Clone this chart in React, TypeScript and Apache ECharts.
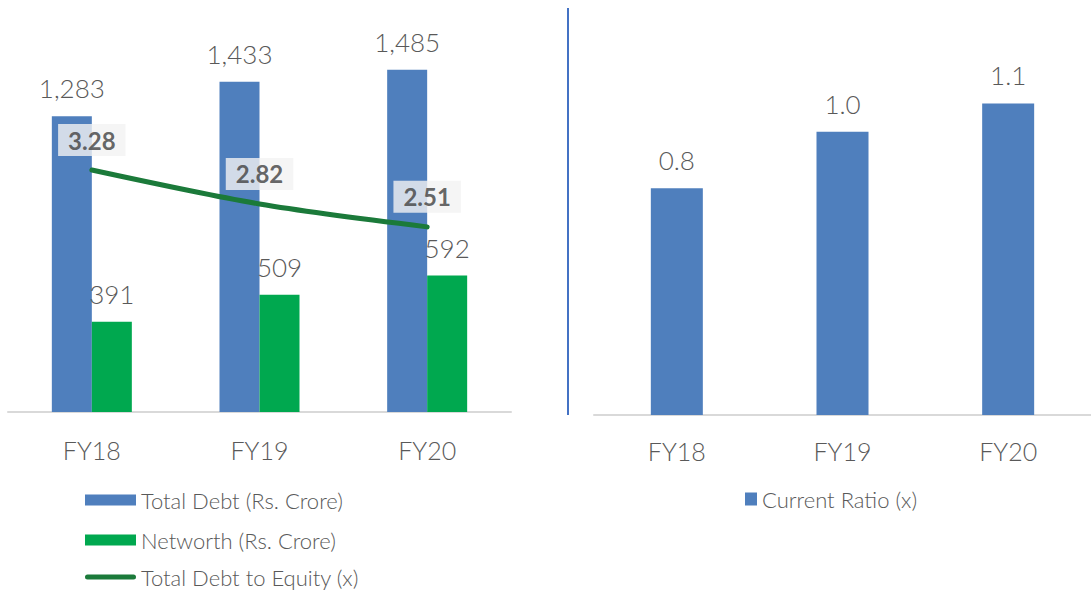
import React, { useEffect, useRef } from "react";
import * as echarts from "echarts";

const categories = ["FY18", "FY19", "FY20"];
const totalDebt = [1283, 1433, 1485];
const networth = [391, 509, 592];
const debtToEquity = [3.28, 2.82, 2.51];
const currentRatio = [0.8, 1.0, 1.1];

const FONT = "Lato, 'Open Sans', sans-serif";
const GRAY = "#595959";
const BLUE = "#4f7fbd";
const GREEN = "#00a84f";
const DARKGREEN = "#1b7a3a";

const LINE_ICON =
  "path://M0,0h0.01v0.01h-0.01Z M2.5,3 h46 a2.5,2.5 0 0 1 0,5 h-46 a2.5,2.5 0 0 1 0,-5 Z M50.99,10.99h0.01v0.01h-0.01Z";

export default function App() {
  const ref = useRef<HTMLDivElement>(null);
  useEffect(() => {
    if (!ref.current) return;
    const chart = echarts.init(ref.current, undefined, { renderer: "svg" });
    const barLabel = {
      show: true,
      position: "top" as const,
      distance: 15,
      color: GRAY,
      fontSize: 26,
      fontFamily: FONT,
      fontWeight: 300 as any,
    };
    const legendText = { color: GRAY, fontSize: 22, fontFamily: FONT, fontWeight: 300 as any };
    const leftLegend = (name: string, top: number, icon: string) => ({
      left: 85,
      top,
      padding: 0,
      itemWidth: 51,
      itemHeight: 11,
      textStyle: legendText,
      data: [{ name, icon }],
    });
    chart.setOption({
      animation: false,
      backgroundColor: "#ffffff",
      textStyle: { fontFamily: FONT },
      grid: [
        { left: 8, width: 503, top: 43.2, height: 368.8 },
        { left: 594, width: 503, top: 18.4, height: 396.6 },
      ],
      legend: [
        leftLegend("Total Debt (Rs. Crore)", 489, "rect"),
        leftLegend("Networth (Rs. Crore)", 529, "rect"),
        leftLegend("Total Debt to Equity (x)", 566, LINE_ICON),
        {
          left: 745,
          top: 488,
          padding: 0,
          itemWidth: 12,
          itemHeight: 13,
          textStyle: legendText,
          data: [{ name: "Current Ratio (x)", icon: "rect" }],
        },
      ],
      xAxis: [
        {
          type: "category",
          gridIndex: 0,
          data: categories,
          axisLine: { lineStyle: { color: "#d9d9d9", width: 2 } },
          axisTick: { show: false },
          axisLabel: { color: GRAY, fontSize: 25, fontFamily: FONT, fontWeight: 300 as any, margin: 25 },
        },
        {
          type: "category",
          gridIndex: 1,
          data: categories,
          axisLine: { lineStyle: { color: "#d9d9d9", width: 2 } },
          axisTick: { show: false },
          axisLabel: { color: GRAY, fontSize: 25, fontFamily: FONT, fontWeight: 300 as any, margin: 23 },
        },
      ],
      yAxis: [
        { type: "value", gridIndex: 0, min: 0, max: 1600, show: false, splitLine: { show: false } },
        { type: "value", gridIndex: 0, min: 0, max: 5, show: false, splitLine: { show: false } },
        { type: "value", gridIndex: 1, min: 0, max: 1.4, show: false, splitLine: { show: false } },
      ],
      series: [
        {
          name: "Total Debt (Rs. Crore)",
          type: "bar",
          xAxisIndex: 0,
          yAxisIndex: 0,
          data: totalDebt,
          barWidth: 40,
          barGap: "0%",
          itemStyle: { color: BLUE },
          label: { ...barLabel, formatter: (p: any) => Number(p.value).toLocaleString("en-US") },
        },
        {
          name: "Networth (Rs. Crore)",
          type: "bar",
          xAxisIndex: 0,
          yAxisIndex: 0,
          data: networth,
          barWidth: 40,
          barGap: "0%",
          itemStyle: { color: GREEN },
          label: barLabel,
        },
        {
          name: "Total Debt to Equity (x)",
          type: "line",
          xAxisIndex: 0,
          yAxisIndex: 1,
          data: debtToEquity,
          smooth: 0.3,
          symbol: "none",
          z: 5,
          lineStyle: { color: DARKGREEN, width: 5, cap: "round" },
          itemStyle: { color: DARKGREEN },
        },
        {
          name: "ratioLabels",
          type: "scatter",
          xAxisIndex: 0,
          yAxisIndex: 1,
          data: debtToEquity,
          symbolSize: 0,
          z: 6,
          silent: true,
          label: {
            show: true,
            position: "top",
            distance: 14,
            color: "#404040",
            fontSize: 24,
            fontWeight: "bold",
            fontFamily: FONT,
            backgroundColor: "#f2f2f2",
            padding: [4, 10, 4, 10],
            formatter: (p: any) => Number(p.value).toFixed(2),
          },
        },
        {
          name: "Current Ratio (x)",
          type: "bar",
          xAxisIndex: 1,
          yAxisIndex: 2,
          data: currentRatio,
          barWidth: 52,
          itemStyle: { color: BLUE },
          label: { ...barLabel, formatter: (p: any) => Number(p.value).toFixed(1) },
        },
      ],
      graphic: [
        {
          type: "line",
          shape: { x1: 568, y1: 8, x2: 568, y2: 415 },
          style: { stroke: "#4472c4", lineWidth: 2 },
        },
      ],
    });
    return () => chart.dispose();
  }, []);
  return (
    <div
      ref={ref}
      style={{ position: "absolute", left: 0, top: 0, width: 1091, height: 594 }}
    />
  );
}
